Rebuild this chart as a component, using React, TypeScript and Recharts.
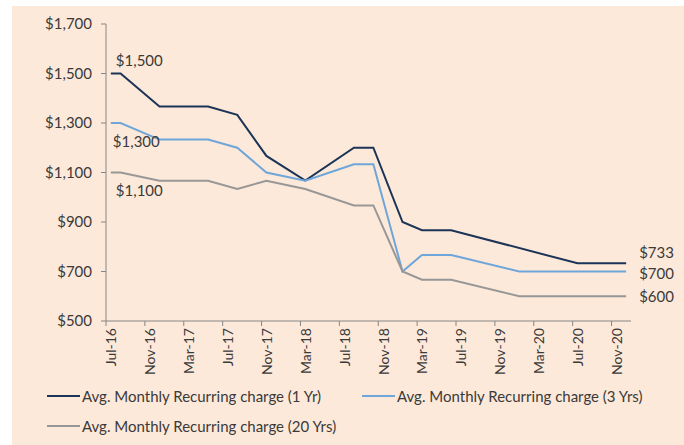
import React from 'react';
import { LineChart, Line, XAxis, YAxis, Legend, LabelList } from 'recharts';

// ---------- data ----------
const seriesNames = [
  'Avg. Monthly Recurring charge (1 Yr)',
  'Avg. Monthly Recurring charge (3 Yrs)',
  'Avg. Monthly Recurring charge (20 Yrs)',
];

const oneYrMonths = ['2016-07', '2016-08', '2016-12', '2017-05', '2017-08', '2017-11', '2018-03', '2018-08', '2018-10', '2019-01', '2019-03', '2019-06', '2020-07', '2020-12'];
const oneYrValues = [1500, 1500, 1367, 1367, 1333, 1167, 1067, 1200, 1200, 900, 867, 867, 733, 733];

const threeYrMonths = ['2016-07', '2016-08', '2016-12', '2017-05', '2017-08', '2017-11', '2018-03', '2018-08', '2018-10', '2019-01', '2019-03', '2019-06', '2020-01', '2020-12'];
const threeYrValues = [1300, 1300, 1233, 1233, 1200, 1100, 1067, 1133, 1133, 700, 767, 767, 700, 700];

const twentyYrMonths = ['2016-07', '2016-08', '2016-12', '2017-05', '2017-08', '2017-11', '2018-03', '2018-08', '2018-10', '2019-01', '2019-03', '2019-06', '2020-01', '2020-12'];
const twentyYrValues = [1100, 1100, 1067, 1067, 1033, 1067, 1033, 967, 967, 700, 667, 667, 600, 600];

const axisStartMonth = '2016-07';
const axisEndMonth = '2020-12';
const tickMonths = ['2016-07', '2016-11', '2017-03', '2017-07', '2017-11', '2018-03', '2018-07', '2018-11', '2019-03', '2019-07', '2019-11', '2020-03', '2020-07', '2020-11'];
const tickLabels = ['Jul-16', 'Nov-16', 'Mar-17', 'Jul-17', 'Nov-17', 'Mar-18', 'Jul-18', 'Nov-18', 'Mar-19', 'Jul-19', 'Nov-19', 'Mar-20', 'Jul-20', 'Nov-20'];
const yTicks = [500, 700, 900, 1100, 1300, 1500, 1700];

// ---------- helpers ----------
const monthIndex = (s: string) => {
  const [y, m] = s.split('-').map(Number);
  const [y0, m0] = axisStartMonth.split('-').map(Number);
  return (y - y0) * 12 + (m - m0);
};
const toData = (months: string[], values: number[]) =>
  months.map((mo, i) => ({ m: monthIndex(mo), v: values[i] }));

const data1 = toData(oneYrMonths, oneYrValues);
const data3 = toData(threeYrMonths, threeYrValues);
const data20 = toData(twentyYrMonths, twentyYrValues);

const nMonths = monthIndex(axisEndMonth) + 1;
const xTickValues = tickMonths.map((t) => monthIndex(t) - 0.5);

// ---------- layout / style ----------
const W = 684;
const H = 445;
const PLOT_LEFT = 106;
const PLOT_RIGHT = 631;
const PLOT_TOP = 24;
const PLOT_BOTTOM = 321;
const Y_AXIS_W = 60;
const X_AXIS_H = 50;
const HALF_MONTH = (PLOT_RIGHT - PLOT_LEFT) / nMonths / 2;

const FONT = 'Lato, "Noto Sans", sans-serif';
const TEXT = '#3A3A3A';
const AXIS = '#868686';
const BG = '#FDE9D9';
const COLORS = ['#1B3457', '#6FA6DA', '#979797'];

const fmt = (v: number) => '$' + v.toLocaleString('en-US');

const XTick = (props: any) => {
  const { x, y, payload } = props;
  const i = Math.round((payload.value + 0.5) / 4);
  const cx = x + HALF_MONTH;
  return (
    <text
      x={cx}
      y={y}
      transform={`rotate(-90 ${cx} ${y})`}
      textAnchor="end"
      dominantBaseline="central"
      fontSize={14}
      fontFamily={FONT}
      fill={TEXT}
    >
      {tickLabels[i]}
    </text>
  );
};

type LblCfg = { first?: [number, number]; last?: [number, number] };
const labelCfgs: LblCfg[] = [
  { first: [5, -14], last: [13, -11] },
  { first: [2, 18], last: [13, 1] },
  { first: [5, 17], last: [13, 0] },
];

const makeLabel = (cfg: LblCfg, len: number) => (p: any) => {
  const { x, y, value, index } = p;
  let off: [number, number] | undefined;
  if (index === 0) off = cfg.first;
  else if (index === len - 1) off = cfg.last;
  if (!off) return null;
  return (
    <text
      x={x + off[0]}
      y={y + off[1]}
      textAnchor="start"
      dominantBaseline="central"
      fontSize={15}
      fontFamily={FONT}
      fill={TEXT}
    >
      {fmt(value)}
    </text>
  );
};

const legendPos = [
  [47, 396],
  [362, 396],
  [47, 426],
];
const LEGEND_TOP = 380;

const LegendContent = (props: any) => {
  const payload = props.payload || [];
  return (
    <div style={{ position: 'relative', width: W, height: 60 }}>
      {payload.map((e: any) => {
        const i = seriesNames.indexOf(e.value);
        if (i < 0) return null;
        return (
          <div
            key={e.value}
            style={{
              position: 'absolute',
              left: legendPos[i][0],
              top: legendPos[i][1] - LEGEND_TOP - 10,
              height: 20,
              display: 'flex',
              alignItems: 'center',
              whiteSpace: 'nowrap',
            }}
          >
            <div style={{ width: 33, height: 2, background: e.color, marginRight: 2 }} />
            <span style={{ fontFamily: FONT, fontSize: 15, color: TEXT }}>{e.value}</span>
          </div>
        );
      })}
    </div>
  );
};

const series = [
  { name: seriesNames[0], data: data1 },
  { name: seriesNames[1], data: data3 },
  { name: seriesNames[2], data: data20 },
];

export default function App() {
  return (
    <div style={{ position: 'fixed', left: 0, top: 0, width: W, height: H, background: '#fff' }}>
      <div style={{ position: 'absolute', left: 12, top: 6, width: W - 12, height: H - 6, background: BG }} />
      <div style={{ position: 'absolute', left: 0, top: 0 }}>
        <LineChart
          width={W}
          height={H}
          margin={{
            top: PLOT_TOP,
            right: W - PLOT_RIGHT,
            bottom: H - PLOT_BOTTOM - X_AXIS_H,
            left: PLOT_LEFT - Y_AXIS_W,
          }}
        >
          <XAxis
            type="number"
            dataKey="m"
            domain={[-0.5, nMonths - 0.5]}
            ticks={xTickValues}
            interval={0}
            height={X_AXIS_H}
            stroke={AXIS}
            tickSize={5}
            tickMargin={2}
            tick={<XTick />}
            allowDataOverflow
          />
          <YAxis
            type="number"
            domain={[500, 1700]}
            ticks={yTicks}
            interval={0}
            width={Y_AXIS_W}
            stroke={AXIS}
            tickSize={5}
            tickMargin={9}
            tickFormatter={fmt}
            tick={{ fontSize: 15, fontFamily: FONT, fill: TEXT }}
          />
          <Legend
            layout="horizontal"
            verticalAlign="middle"
            align="center"
            wrapperStyle={{ top: LEGEND_TOP, left: 0, width: W }}
            content={<LegendContent />}
          />
          {series.map((s, i) => (
            <Line
              key={s.name}
              name={s.name}
              data={s.data}
              dataKey="v"
              type="linear"
              stroke={COLORS[i]}
              strokeWidth={2}
              dot={false}
              activeDot={false}
              isAnimationActive={false}
            >
              <LabelList dataKey="v" content={makeLabel(labelCfgs[i], s.data.length)} />
            </Line>
          ))}
        </LineChart>
      </div>
    </div>
  );
}
